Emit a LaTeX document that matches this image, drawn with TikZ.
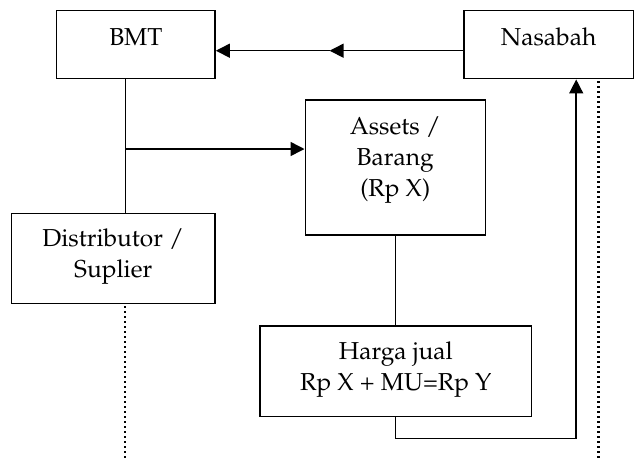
\documentclass[tikz,border=0pt]{standalone}
\usepackage[T1]{fontenc}
\usepackage{mathpazo}
\usetikzlibrary{arrows.meta}
\begin{document}
\begin{tikzpicture}[x=1pt,y=-1pt,
  box/.style={draw, line width=1.5pt, inner sep=0pt},
  txt/.style={inner sep=0pt, align=center, anchor=base, font=\fontsize{24.5}{31}\selectfont},
  conn/.style={line width=1.5pt},
  arr/.style={line width=1.5pt, -{Triangle[length=14pt,width=14pt]}},
  dots/.style={line width=1.9pt, dash pattern=on 1.9pt off 3.1pt}]
\useasboundingbox (0,0) rectangle (634,459);
% boxes
\node[box, minimum width=158.5pt, minimum height=68pt] (bmt) at (135.85,44.7) {};
\node[box, minimum width=169.7pt, minimum height=68pt] (nas) at (548.6,44.7) {};
\node[box, minimum width=180pt, minimum height=135pt] (assets) at (395.25,167.5) {};
\node[box, minimum width=203.8pt, minimum height=90pt] (dist) at (113.2,258.3) {};
\node[box, minimum width=271.7pt, minimum height=90.7pt] (harga) at (395.85,371.35) {};
% texts
\node[txt] (bmtt) at (135.85,45) {BMT};
\node[txt] (nast) at (548.6,45) {Nasabah};
\node[txt] (assetst) at (395.25,196.7) {Assets /\\Barang\\(Rp X)};
\node[txt] (distt) at (113.2,277.3) {Distributor /\\Suplier};
\node[txt] (hargat) at (395.85,390.7) {Harga jual\\Rp X + MU=Rp Y};
% connectors
\coordinate (mid) at (329.6,50.7);
\coordinate (tjoin) at (125.4,149);
\coordinate (blow) at (395.5,438.7);
\coordinate (bright) at (576.2,438.7);
\coordinate (dend1) at (125.4,459);
\coordinate (dend2) at (598.4,459);
\draw[arr] (nas.west |- mid) -- (mid);
\draw[arr] (mid) -- (bmt.east |- mid);
\draw[conn] (bmt.south -| tjoin) -- (dist.north -| tjoin);
\draw[arr] (tjoin) -- (assets.west |- tjoin);
\draw[conn] (assets.south -| blow) -- (harga.north -| blow);
\draw[arr] (harga.south -| blow) -- (blow) -- (bright) -- (nas.south -| bright);
\draw[dots] ([yshift=-2pt]dist.south -| dend1) -- (dend1);
\draw[dots, line width=2.2pt] ([yshift=-2pt]nas.south -| dend2) -- (dend2);
\end{tikzpicture}
\end{document}
